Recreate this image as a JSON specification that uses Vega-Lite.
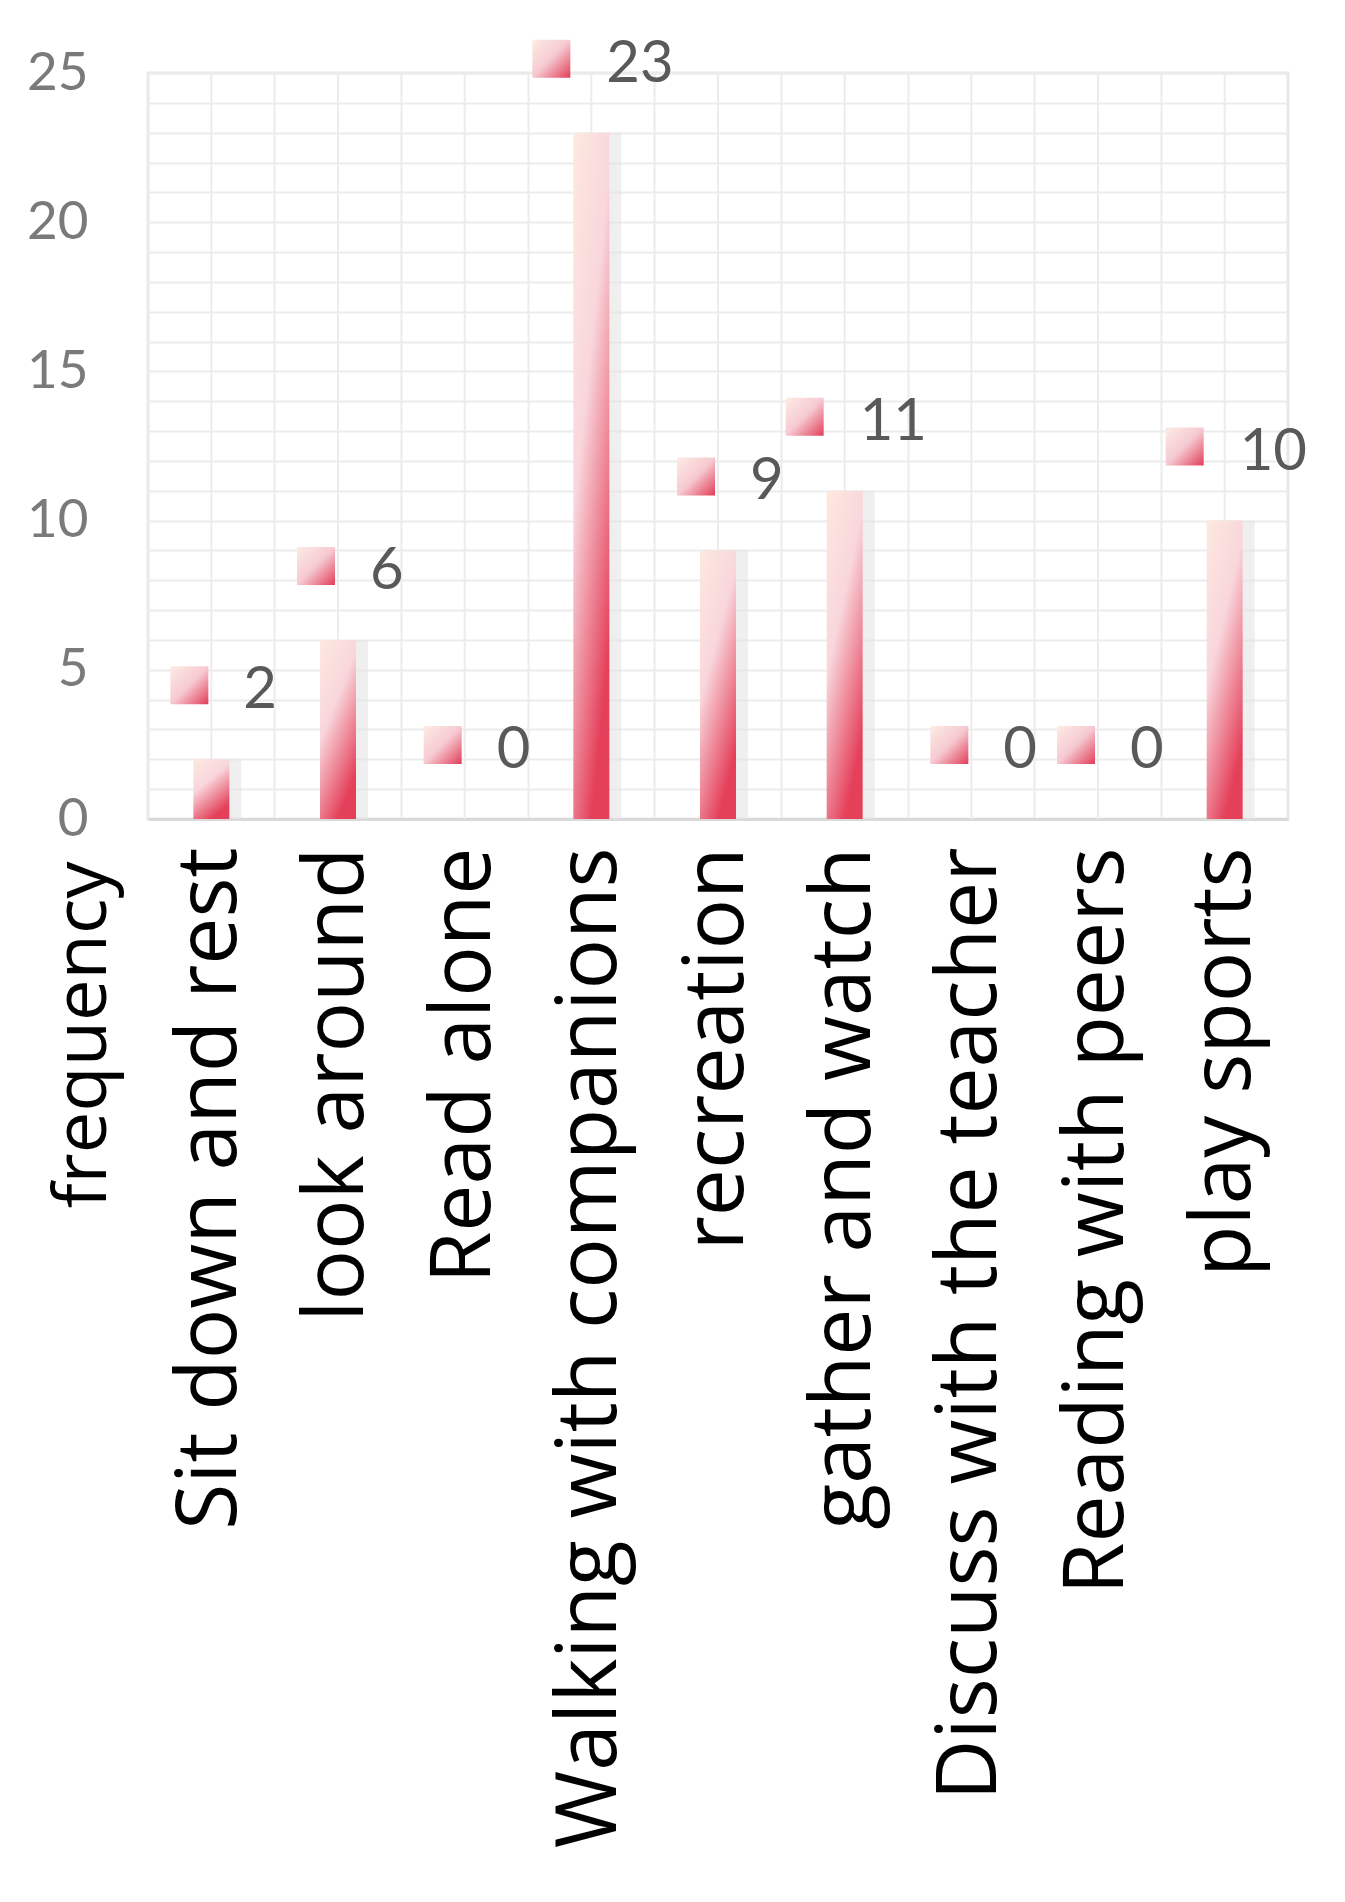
{
  "$schema": "https://vega.github.io/schema/vega-lite/v6.json",
  "autosize": {"type": "none"},
  "padding": {"left": 148, "top": 73, "right": 57, "bottom": 1083},
  "width": 1140,
  "height": 746,
  "background": "white",
  "config": {
    "view": {"stroke": "#e8e8e8", "strokeWidth": 3},
    "axis": {"ticks": false}
  },
  "data": {"values": [
    {"cat": "Sit down and rest", "v": 2},
    {"cat": "look around", "v": 6},
    {"cat": "Read alone", "v": 0},
    {"cat": "Walking with companions", "v": 23},
    {"cat": "recreation", "v": 9},
    {"cat": "gather and watch", "v": 11},
    {"cat": "Discuss with the teacher", "v": 0},
    {"cat": "Reading with peers", "v": 0},
    {"cat": "play sports", "v": 10}
  ]},
  "encoding": {
    "x": {
      "field": "cat", "type": "nominal", "sort": null,
      "scale": {"paddingInner": 0, "paddingOuter": 0},
      "axis": {
        "title": null, "labelAngle": -90, "labelAlign": "right", "labelBaseline": "middle",
        "labelFont": "Open Sans", "labelFontSize": 84, "labelColor": "#000000",
        "labelPadding": 28, "labelLimit": 0, "labelOverlap": false,
        "grid": true, "bandPosition": 0, "gridColor": "#ececec", "gridWidth": 2,
        "domain": true, "domainColor": "#d9d9d9", "domainWidth": 3
      }
    },
    "y": {
      "field": "v", "type": "quantitative",
      "scale": {"domain": [0, 25], "nice": false},
      "axis": {
        "title": "frequency", "titleX": -43, "titleY": 788, "titleAngle": -90,
        "titleAlign": "right", "titleBaseline": "alphabetic",
        "titleFont": "Open Sans", "titleFontSize": 74, "titleFontWeight": "normal", "titleColor": "#000000",
        "values": [0,1,2,3,4,5,6,7,8,9,10,11,12,13,14,15,16,17,18,19,20,21,22,23,24,25],
        "labelExpr": "datum.value % 5 === 0 ? datum.label : ''",
        "labelFont": "Lato", "labelFontSize": 53, "labelColor": "#7a7a7a", "labelPadding": 60,
        "grid": true, "gridColor": "#ececec", "gridWidth": 2, "domain": false
      }
    }
  },
  "layer": [
    {
      "mark": {"type": "rule", "color": "#ececec", "strokeWidth": 2},
      "encoding": {"y": {"datum": 0}, "y2": {"datum": 25}}
    },
    {
      "mark": {"type": "bar", "width": 44, "xOffset": 8, "fill": "#e4e4e4", "opacity": 0.6}
    },
    {
      "mark": {"type": "bar", "width": 36, "fill": {
        "gradient": "linear", "x1": 0, "y1": 0, "x2": 0.5, "y2": 1,
        "stops": [
          {"offset": 0, "color": "#fde9df"},
          {"offset": 0.45, "color": "#f9d6dc"},
          {"offset": 1, "color": "#e4405a"}
        ]}}
    },
    {
      "transform": [{"filter": "datum.v < 10"}],
      "mark": {"type": "point", "shape": "square", "size": 1444, "filled": true, "opacity": 1, "strokeWidth": 0,
        "xOffset": -22, "yOffset": -74,
        "fill": {"gradient": "linear", "x1": 0, "y1": 0, "x2": 1, "y2": 1,
          "stops": [{"offset": 0, "color": "#fdece4"}, {"offset": 0.5, "color": "#f6c9d1"}, {"offset": 1, "color": "#e23c57"}]}}
    },
    {
      "transform": [{"filter": "datum.v >= 10"}],
      "mark": {"type": "point", "shape": "square", "size": 1444, "filled": true, "opacity": 1, "strokeWidth": 0,
        "xOffset": -40, "yOffset": -74,
        "fill": {"gradient": "linear", "x1": 0, "y1": 0, "x2": 1, "y2": 1,
          "stops": [{"offset": 0, "color": "#fdece4"}, {"offset": 0.5, "color": "#f6c9d1"}, {"offset": 1, "color": "#e23c57"}]}}
    },
    {
      "transform": [{"filter": "datum.v < 10"}],
      "mark": {"type": "text", "align": "left", "baseline": "middle", "dx": 32, "dy": -68,
        "font": "Lato", "fontSize": 58, "fill": "#595959"},
      "encoding": {"text": {"field": "v", "type": "quantitative"}}
    },
    {
      "transform": [{"filter": "datum.v >= 10"}],
      "mark": {"type": "text", "align": "left", "baseline": "middle", "dx": 15, "dy": -68,
        "font": "Lato", "fontSize": 58, "fill": "#595959"},
      "encoding": {"text": {"field": "v", "type": "quantitative"}}
    }
  ]
}
